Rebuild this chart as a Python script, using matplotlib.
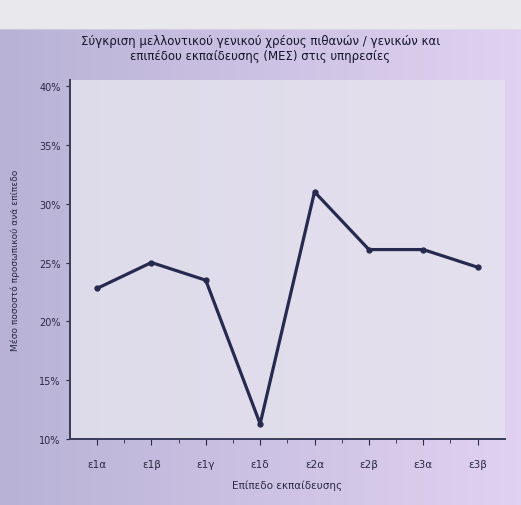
import matplotlib.pyplot as plt
import numpy as np

# education levels and mean percentage per level
levels = ["ε1α", "ε1β", "ε1γ", "ε1δ", "ε2α", "ε2β", "ε3α", "ε3β"]
values = [22.8, 25.0, 23.5, 11.3, 31.0, 26.1, 26.1, 24.6]
yticks = [10, 15, 20, 25, 30, 35, 40]

title = ("Σύγκριση μελλοντικού γενικού χρέους πιθανών / γενικών και\n"
         "επιπέδου εκπαίδευσης (ΜΕΣ) στις υπηρεσίες")
xlabel = "Επίπεδο εκπαίδευσης"
ylabel = "Μέσο ποσοστό προσωπικού ανά επίπεδο"

fig = plt.figure(figsize=(5.21, 5.06), dpi=100)

# background wash behind everything
bg = fig.add_axes([0, 0, 1, 1], zorder=-10)
gx = np.linspace(0, 1, 200)
gy = np.linspace(0, 1, 200)
X, Y = np.meshgrid(gx, gy)
c_left = np.array([0.72, 0.70, 0.84])
c_right = np.array([0.88, 0.82, 0.94])
img = c_left[None, None, :] * (1 - X[..., None]) + c_right[None, None, :] * X[..., None]
band = np.array([0.91, 0.91, 0.93])
top = (Y < 0.06)[..., None]
img = np.where(top, band[None, None, :], img)
bg.imshow(img, extent=[0, 1, 0, 1], aspect="auto", origin="upper")
bg.axis("off")

ax = fig.add_axes([0.134, 0.130, 0.835, 0.71])
ax.set_facecolor("#e6e4ee")
ax.patch.set_alpha(0.8)

x = np.arange(len(levels))
ax.plot(x, values, color="#262a4e", lw=2.3, marker="o", ms=3.5, zorder=3)

ax.set_xlim(-0.5, len(levels) - 0.5)
ax.set_ylim(10, 40.5)
ax.set_yticks(yticks)
ax.set_yticklabels([f"{v}%" for v in yticks], fontsize=7, color="#2a2a44")
ax.set_xticks(x)
ax.set_xticklabels(levels, fontsize=7.5, color="#2a2a44")
ax.set_xticks(x[:-1] + 0.5, minor=True)
ax.tick_params(axis="x", which="major", length=4, pad=10, color="#2a2a44")
ax.tick_params(axis="x", which="minor", length=3, color="#2a2a44")
ax.tick_params(axis="y", length=3, color="#2a2a44")

for side in ["top", "right"]:
    ax.spines[side].set_visible(False)
ax.spines["left"].set_color("#3a3a5a")
ax.spines["bottom"].set_color("#3a3a5a")
ax.spines["left"].set_linewidth(1.4)
ax.spines["bottom"].set_linewidth(1.4)

ax.set_xlabel(xlabel, fontsize=7.5, color="#2a2a44", labelpad=8)
ax.set_ylabel(ylabel, fontsize=6.5, color="#2a2a44", labelpad=14)
fig.suptitle(title, fontsize=8.5, color="#14142a", y=0.93)

fig.savefig("out.png", dpi=100)
